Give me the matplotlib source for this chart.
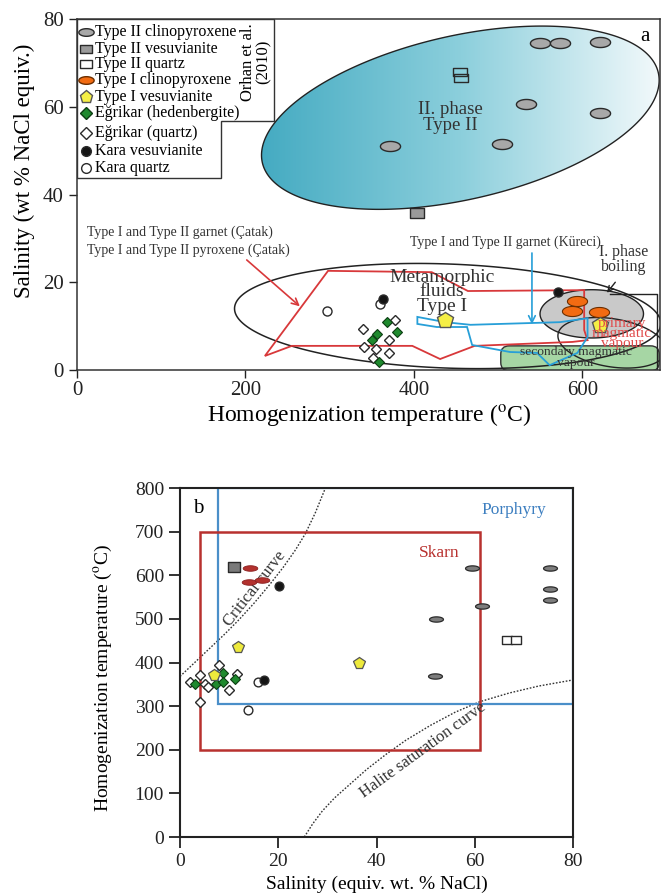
import numpy as np
import matplotlib
matplotlib.use('Agg')
import matplotlib.pyplot as plt
from matplotlib.path import Path
from matplotlib.patches import Polygon, FancyBboxPatch, Rectangle
from matplotlib.colors import LinearSegmentedColormap

plt.rcParams['font.family'] = ['Liberation Serif', 'DejaVu Serif']
plt.rcParams['mathtext.fontset'] = 'stix'

# ---------------- Panel a data: (temperature °C, salinity wt%) ----------------
a_t2_cpx_T = [550, 573, 621, 533, 621, 372, 505]
a_t2_cpx_S = [74.5, 74.5, 74.7, 60.6, 58.5, 51.0, 51.5]
a_t2_ves_T = [404]
a_t2_ves_S = [35.8]
a_t2_qtz_T = [455, 456]
a_t2_qtz_S = [68.0, 66.6]
a_t1_cpx_T = [593, 587, 620]
a_t1_cpx_S = [15.7, 13.4, 13.2]
a_t1_ves_T = [437, 621]
a_t1_ves_S = [11.4, 10.3]
a_egr_hed_T = [368, 380, 356, 350, 359]
a_egr_hed_S = [11.0, 8.6, 8.2, 6.8, 1.8]
a_egr_qtz_T = [340, 377, 370, 341, 355, 351, 370]
a_egr_qtz_S = [9.3, 11.4, 6.8, 5.3, 4.8, 2.7, 3.8]
a_kara_ves_T = [363, 571]
a_kara_ves_S = [16.2, 17.8]
a_kara_qtz_T = [360, 297]
a_kara_qtz_S = [15.0, 13.4]

# fields in panel a
typeII_field = dict(c=(455, 57.5), u=(235, 10.25), v=(21.6, -18.2))
meta_field = dict(c=(440, 12.3), u=(253, -1.8), v=(-2.3, -11.85))
boil_field = dict(c=(611, 12.8), u=(61.4, 0), v=(0, 5.5))
prim_field = dict(c=(635, 6.2), u=(64, -2.0), v=(-4.7, -5.4))
catak_T = [298, 421, 464, 602, 602, 606, 588, 472, 431, 398, 255, 223]
catak_S = [22.6, 22.3, 18.0, 18.2, 9.1, 6.8, 6.4, 5.5, 2.5, 5.5, 5.5, 3.2]
kureci_T = [404, 404, 427, 463, 469, 514, 546, 561, 594, 606, 606, 573, 467, 437]
kureci_S = [12.1, 10.5, 9.8, 9.8, 5.7, 4.1, 3.9, 1.1, 3.9, 7.5, 11.8, 10.9, 10.3, 10.9]
box_T = [633, 688.4, 688.4]
box_S = [17.3, 17.3, 0]

# ---------------- Panel b data: (salinity wt%, temperature °C) ----------------
b_t2_cpx_S = [59.4, 75.4, 75.4, 75.4, 61.4, 52.2, 51.9]
b_t2_cpx_T = [617, 617, 568, 543, 529, 500, 368]
b_t2_ves_S = [10.9]
b_t2_ves_T = [619]
b_t2_qtz_S = [66.6, 68.4]
b_t2_qtz_T = [452, 452]
b_t1_cpx_S = [14.3, 14.1, 16.7]
b_t1_cpx_T = [617, 585, 590]
b_t1_ves_S = [11.9, 36.4, 7.0]
b_t1_ves_T = [435, 400, 371]
b_egr_hed_S = [3.1, 8.8, 7.3, 8.8, 11.1]
b_egr_hed_T = [350, 375, 350, 356, 363]
b_egr_qtz_S = [8.0, 4.1, 2.0, 5.0, 11.6, 9.9, 4.1, 5.8]
b_egr_qtz_T = [394, 371, 356, 350, 374, 337, 309, 344]
b_kara_ves_S = [20.2, 17.0]
b_kara_ves_T = [575, 360]
b_kara_qtz_S = [15.8, 13.9]
b_kara_qtz_T = [356, 291]

crit_S = [0, 3, 6, 9, 12, 15, 18, 21, 23.5, 25.5, 27.5, 29.6]
crit_T = [368, 400, 432, 464, 498, 535, 575, 618, 658, 695, 742, 800]
halite_S = [25.3, 27, 29, 31.5, 34.5, 38, 42, 46, 51, 56, 61, 67, 73, 80]
halite_T = [0, 30, 60, 90, 120, 155, 190, 222, 256, 286, 310, 330, 346, 360]
porphyry_box = (7.8, 305, 80, 800)
skarn_box = (4, 200, 61, 700)

legend_labels = ['Type II clinopyroxene', 'Type II vesuvianite', 'Type II quartz',
                 'Type I clinopyroxene', 'Type I vesuvianite', 'Eğrikar (hedenbergite)',
                 'Eğrikar (quartz)', 'Kara vesuvianite', 'Kara quartz']


def ell_pts(c, u, v, n=300):
    t = np.linspace(0, 2 * np.pi, n)
    return np.column_stack([c[0] + u[0] * np.cos(t) + v[0] * np.sin(t),
                            c[1] + u[1] * np.cos(t) + v[1] * np.sin(t)])


def ell_marker(r):
    th = np.linspace(0, 2 * np.pi, 60)
    return Path(np.column_stack([np.cos(th), r * np.sin(th)]), closed=True)


def rect_marker(r):
    return Path([(-1, -r), (1, -r), (1, r), (-1, r), (-1, -r)], closed=True)


EL_A = ell_marker(0.5)
EL_B = ell_marker(0.38)
RECT_A = rect_marker(0.62)
RECT_B = rect_marker(0.85)

GRAYA = '#a8a8a8'
ORANGE = '#f26b12'
YELLOW = '#f5ef45'
GREEN = '#1f8a2e'
EDGE = '#2a2a2a'

fig = plt.figure(figsize=(6.61, 8.96), dpi=100)

# ======================= Panel a =======================
axa = fig.add_axes([77 / 661, 1 - 370 / 896, 583 / 661, 351 / 896])
axa.set_xlim(0, 692)
axa.set_ylim(0, 80)

# Type II field with gradient
pts = ell_pts(**typeII_field)
ellp = Polygon(pts, closed=True, fc='none', ec='#222222', lw=1.0, zorder=2)
axa.add_patch(ellp)
cmap = LinearSegmentedColormap.from_list('teal', ['#45abc2', '#8ccfdc', '#f2f9fb'])
grad = np.linspace(0, 1, 256).reshape(1, -1)
im = axa.imshow(grad, cmap=cmap, aspect='auto', zorder=1, interpolation='bicubic',
                extent=[pts[:, 0].min(), pts[:, 0].max(), pts[:, 1].min(), pts[:, 1].max()])
im.set_clip_path(ellp)
axa.set_xlim(0, 692)
axa.set_ylim(0, 80)

# boiling field and other outlines
axa.add_patch(Polygon(ell_pts(**boil_field), closed=True, fc='#c9c9c9', ec='#222222', lw=1.0, zorder=2))
g = FancyBboxPatch((503, -0.2), 188, 5.7, boxstyle='round,pad=0,rounding_size=10',
                   mutation_aspect=0.192, fc='#a6d6a4', ec='#333333', lw=1.0, zorder=2.1)
axa.add_patch(g)
axa.add_patch(Polygon(ell_pts(**meta_field), closed=True, fc='none', ec='#222222', lw=1.1, zorder=2.2))
axa.add_patch(Polygon(ell_pts(**prim_field), closed=True, fc='none', ec='#222222', lw=1.0, zorder=2.2))
axa.plot(box_T, box_S, color='#222222', lw=1.0, zorder=2.2)
axa.add_patch(Polygon(np.column_stack([catak_T, catak_S]), closed=True, fc='none',
                      ec='#d8383a', lw=1.3, zorder=2.4))
axa.add_patch(Polygon(np.column_stack([kureci_T, kureci_S]), closed=True, fc='none',
                      ec='#279fd8', lw=1.3, zorder=2.5))

# markers
axa.plot(a_t2_cpx_T, a_t2_cpx_S, ls='none', marker=EL_A, ms=14.5, mfc=GRAYA, mec=EDGE, mew=1, zorder=4)
axa.plot(a_t2_ves_T, a_t2_ves_S, ls='none', marker=RECT_A, ms=10.5, mfc='#9a9a9a', mec=EDGE, mew=1, zorder=1.5)
axa.plot(a_t2_qtz_T, a_t2_qtz_S, ls='none', marker=RECT_A, ms=10, mfc='none', mec=EDGE, mew=1, zorder=4)
axa.plot(a_t1_cpx_T, a_t1_cpx_S, ls='none', marker=EL_A, ms=14.5, mfc=ORANGE, mec='#6b2e00', mew=0.8, zorder=4)
axa.plot(a_t1_ves_T, a_t1_ves_S, ls='none', marker='p', ms=12, mfc=YELLOW, mec='#555555', mew=1, zorder=4)
axa.plot(a_egr_qtz_T, a_egr_qtz_S, ls='none', marker='D', ms=5.5, mfc='white', mec=EDGE, mew=1, zorder=4)
axa.plot(a_egr_hed_T, a_egr_hed_S, ls='none', marker='D', ms=5.5, mfc=GREEN, mec='#0c3d12', mew=0.8, zorder=4.1)
axa.plot(a_kara_ves_T, a_kara_ves_S, ls='none', marker='o', ms=6.5, mfc='#151515', mec=EDGE, mew=1, zorder=4.2)
axa.plot(a_kara_qtz_T, a_kara_qtz_S, ls='none', marker='o', ms=6.5, mfc='white', mec=EDGE, mew=1, zorder=4.1)

# texts & arrows
axa.text(443, 57.6, 'II. phase\nType II', ha='center', va='center', fontsize=13.5,
         linespacing=0.95, color='#333333', zorder=5)
axa.text(674, 75.9, 'a', ha='center', va='center', fontsize=15, zorder=5)
axa.text(12, 31.4, 'Type I and Type II garnet (Çatak)', ha='left', va='center', fontsize=10, color='#333333')
axa.text(12, 27.3, 'Type I and Type II pyroxene (Çatak)', ha='left', va='center', fontsize=10, color='#333333')
axa.annotate('', xy=(267, 14.1), xytext=(199, 25.5),
             arrowprops=dict(arrowstyle='->', color='#d8383a', lw=1.2, mutation_scale=12))
axa.text(508, 29.2, 'Type I and Type II garnet (Küreci)', ha='center', va='center', fontsize=10, color='#333333')
axa.annotate('', xy=(540, 9.8), xytext=(540, 27.3),
             arrowprops=dict(arrowstyle='->', color='#279fd8', lw=1.2, mutation_scale=12))
axa.text(433, 17.8, 'Metamorphic\nfluids\nType I', ha='center', va='center', fontsize=14,
         linespacing=0.78, color='#333333', zorder=5)
axa.text(649, 25.2, 'I. phase\nboiling', ha='center', va='center', fontsize=11.5,
         linespacing=0.92, color='#333333', zorder=5)
axa.annotate('', xy=(627, 17.1), xytext=(641, 20.5),
             arrowprops=dict(arrowstyle='->', color='#222222', lw=1.0, mutation_scale=10))
axa.text(647, 8.4, 'primary\nmagmatic\nvapour', ha='center', va='center', fontsize=11,
         linespacing=0.7, color='#e04a4a', zorder=5)
axa.text(592, 2.85, 'secondary magmatic\nvapour', ha='center', va='center', fontsize=9.7,
         linespacing=0.8, color='#333333', zorder=5)

# legend box
legpoly = Polygon([(0, 1), (0.338, 1), (0.338, 0.709), (0.247, 0.709), (0.247, 0.547), (0, 0.547)],
                  closed=True, fc='white', ec='#333333', lw=1.0, transform=axa.transAxes, zorder=6)
axa.add_patch(legpoly)
leg_y = [0.963, 0.915, 0.872, 0.826, 0.778, 0.732, 0.675, 0.624, 0.575]
leg_style = [
    dict(marker=EL_A, ms=11, mfc=GRAYA, mec=EDGE),
    dict(marker=RECT_A, ms=9, mfc='#9a9a9a', mec=EDGE),
    dict(marker=RECT_A, ms=9, mfc='white', mec=EDGE),
    dict(marker=EL_A, ms=11, mfc=ORANGE, mec='#6b2e00'),
    dict(marker='p', ms=9.5, mfc=YELLOW, mec='#555555'),
    dict(marker='D', ms=6, mfc=GREEN, mec='#0c3d12'),
    dict(marker='D', ms=6, mfc='white', mec=EDGE),
    dict(marker='o', ms=7, mfc='#151515', mec=EDGE),
    dict(marker='o', ms=7, mfc='white', mec=EDGE),
]
for yy, lab, st in zip(leg_y, legend_labels, leg_style):
    axa.plot([0.0155], [yy], ls='none', transform=axa.transAxes, zorder=7, clip_on=False, mew=1, **st)
    axa.text(0.031, yy, lab, transform=axa.transAxes, ha='left', va='center', fontsize=11.5, zorder=7)
axa.text(0.307, 0.877, 'Orhan et al.\n(2010)', transform=axa.transAxes, rotation=90,
         ha='center', va='center', multialignment='center', fontsize=12, linespacing=1.0, zorder=7)

axa.set_xticks([0, 200, 400, 600])
axa.set_yticks([0, 20, 40, 60, 80])
axa.tick_params(direction='out', length=6, width=1.0, labelsize=15, colors='#222222')
axa.tick_params(axis='x', pad=2)
for s in axa.spines.values():
    s.set_linewidth(1.1)
    s.set_color('#333333')
fig.text(369 / 661, 1 - 415 / 896, r'Homogenization temperature ($^{\rm o}$C)',
         ha='center', va='center', fontsize=17)
fig.text(24 / 661, 1 - 171 / 896, 'Salinity (wt % NaCl equiv.)', rotation=90,
         ha='center', va='center', fontsize=16.5)

# ======================= Panel b =======================
axb = fig.add_axes([180 / 661, 1 - 837 / 896, 393 / 661, 349 / 896])
axb.set_xlim(0, 80)
axb.set_ylim(0, 800)

x0, y0, x1, y1 = porphyry_box
axb.add_patch(Rectangle((x0, y0), x1 - x0, y1 - y0, fc='none', ec='#4a8fc9', lw=1.6, zorder=2))
x0, y0, x1, y1 = skarn_box
axb.add_patch(Rectangle((x0, y0), x1 - x0, y1 - y0, fc='none', ec='#b8312f', lw=1.8, zorder=2))
axb.text(68, 750, 'Porphyry', ha='center', va='center', fontsize=12.5, color='#3d7fc0')
axb.text(52.7, 651, 'Skarn', ha='center', va='center', fontsize=12.5, color='#b8312f')
axb.text(3.7, 754, 'b', ha='center', va='center', fontsize=15)

axb.plot(crit_S, crit_T, ls=(0, (1.2, 1.2)), color='#333333', lw=1.0, zorder=1.5)
axb.plot(halite_S, halite_T, ls=(0, (1.2, 1.2)), color='#333333', lw=1.0, zorder=1.5)
axb.text(15.2, 570, 'Critical curve', rotation=52, ha='center', va='center', fontsize=12, color='#333333')
axb.text(49.5, 200, 'Halite saturation curve', rotation=36, ha='center', va='center',
         fontsize=12, color='#333333')

axb.plot(b_t2_cpx_S, b_t2_cpx_T, ls='none', marker=EL_B, ms=10, mfc='#7d7d7d', mec=EDGE, mew=0.9, zorder=4)
axb.plot(b_t2_ves_S, b_t2_ves_T, ls='none', marker=RECT_B, ms=8, mfc='#7a7a7a', mec=EDGE, mew=1, zorder=4)
axb.plot(b_t2_qtz_S, b_t2_qtz_T, ls='none', marker=RECT_B, ms=6.8, mfc='white', mec=EDGE, mew=1, zorder=4)
axb.plot(b_t1_cpx_S, b_t1_cpx_T, ls='none', marker=EL_B, ms=10.5, mfc='#b3312e', mec='#8a1f1f', mew=0.6, zorder=4)
axb.plot(b_egr_qtz_S, b_egr_qtz_T, ls='none', marker='D', ms=5.2, mfc='white', mec=EDGE, mew=1, zorder=4)
axb.plot(b_egr_hed_S, b_egr_hed_T, ls='none', marker='D', ms=5.2, mfc=GREEN, mec='#0c3d12', mew=0.8, zorder=4.1)
axb.plot(b_t1_ves_S, b_t1_ves_T, ls='none', marker='p', ms=8.5, mfc='#eeea3c', mec='#555555', mew=0.9, zorder=4.2)
axb.plot(b_kara_qtz_S, b_kara_qtz_T, ls='none', marker='o', ms=6.3, mfc='white', mec=EDGE, mew=1, zorder=4.1)
axb.plot(b_kara_ves_S, b_kara_ves_T, ls='none', marker='o', ms=6.3, mfc='#151515', mec=EDGE, mew=1, zorder=4.2)

axb.set_xticks([0, 20, 40, 60, 80])
axb.set_yticks(list(range(0, 801, 100)))
axb.tick_params(direction='out', length=8, width=1.3, labelsize=14, colors='#222222')
for s in axb.spines.values():
    s.set_linewidth(1.5)
    s.set_color('#222222')
fig.text(377 / 661, 1 - 884 / 896, 'Salinity (equiv. wt. % NaCl)', ha='center', va='center', fontsize=14)
fig.text(103 / 661, 1 - 678 / 896, r'Homogenization temperature ($^{\rm o}$C)', rotation=90,
         ha='center', va='center', fontsize=14)

fig.savefig('out.png', dpi=100)
